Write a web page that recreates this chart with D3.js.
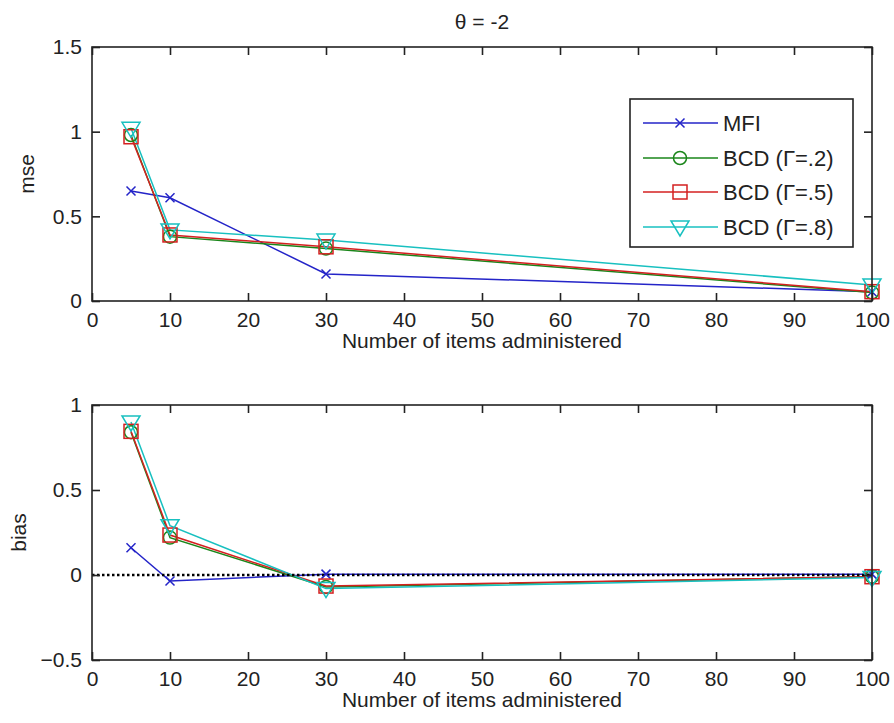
<!DOCTYPE html>
<html><head><meta charset="utf-8">
<script src="https://cdn.jsdelivr.net/npm/d3@7"></script>
<style>body{margin:0;background:#fff}svg{display:block}text{font-family:"Liberation Sans",Arial,sans-serif;fill:#222}</style>
</head><body>
<script>
const items = [5, 10, 30, 100];
const seriesNames = ["MFI", "BCD (\u0393=.2)", "BCD (\u0393=.5)", "BCD (\u0393=.8)"];
const mseMFI = [0.65, 0.61, 0.16, 0.055];
const mseBCD2 = [0.98, 0.38, 0.31, 0.05];
const mseBCD5 = [0.97, 0.39, 0.32, 0.055];
const mseBCD8 = [1.02, 0.42, 0.36, 0.095];
const biasMFI = [0.16, -0.035, 0.005, 0.005];
const biasBCD2 = [0.84, 0.22, -0.07, -0.01];
const biasBCD5 = [0.845, 0.235, -0.065, -0.01];
const biasBCD8 = [0.90, 0.29, -0.08, -0.015];
const xTicks = [0,10,20,30,40,50,60,70,80,90,100];
const mseTicks = [0, 0.5, 1, 1.5];
const biasTicks = [-0.5, 0, 0.5, 1];

const colors = ["#2424c8", "#1a861a", "#d42020", "#18c0c0"];
const markers = ["x", "o", "s", "v"];
const FS = "21px";

const W = 894, H = 723;
const svg = d3.select("body").append("svg").attr("width", W).attr("height", H);

const x = d3.scaleLinear().domain([0, 100]).range([92, 872]);

svg.append("text").attr("x", (x(0) + x(100)) / 2).attr("y", 29).attr("text-anchor", "middle")
  .style("font-size", FS).text("\u03b8 = -2");

function drawMarker(g, type, cx, cy, color) {
  const sw = 1.5;
  if (type === "x") {
    g.append("path").attr("d", `M${cx-4.5},${cy-4.5}L${cx+4.5},${cy+4.5}M${cx-4.5},${cy+4.5}L${cx+4.5},${cy-4.5}`)
      .attr("stroke", color).attr("stroke-width", sw).attr("fill", "none");
  } else if (type === "o") {
    g.append("circle").attr("cx", cx).attr("cy", cy).attr("r", 6.5)
      .attr("stroke", color).attr("stroke-width", sw).attr("fill", "none");
  } else if (type === "s") {
    g.append("rect").attr("x", cx-7).attr("y", cy-7).attr("width", 14).attr("height", 14)
      .attr("stroke", color).attr("stroke-width", sw).attr("fill", "none");
  } else if (type === "v") {
    g.append("path").attr("d", `M${cx-9},${cy-6}L${cx+9},${cy-6}L${cx},${cy+9}Z`)
      .attr("stroke", color).attr("stroke-width", sw).attr("fill", "none");
  }
}

function panel(top, bottom, yDomain, yTicks, ylabel, ylabelX, data, zeroLine) {
  const y = d3.scaleLinear().domain(yDomain).range([bottom, top]);
  const g = svg.append("g");
  const tl = 8;
  data.forEach((vals, si) => {
    const line = d3.line().x((d, i) => x(items[i])).y(d => y(d));
    g.append("path").datum(vals).attr("d", line).attr("fill", "none")
      .attr("stroke", colors[si]).attr("stroke-width", 1.5);
  });
  if (zeroLine) {
    g.append("line").attr("x1", x(0)).attr("x2", x(100)).attr("y1", y(0)).attr("y2", y(0))
      .attr("stroke", "#000").attr("stroke-width", 2.5).attr("stroke-dasharray", "2.5,2.5");
  }
  data.forEach((vals, si) => {
    vals.forEach((v, i) => drawMarker(g, markers[si], x(items[i]), y(v), colors[si]));
  });
  g.append("rect").attr("x", x(0)).attr("y", top).attr("width", x(100) - x(0)).attr("height", bottom - top)
    .attr("fill", "none").attr("stroke", "#222").attr("stroke-width", 1.6);
  const axB = d3.axisBottom(x).tickValues(xTicks).tickSize(-tl).tickPadding(11).tickFormat(d3.format("d"));
  const gx = g.append("g").attr("transform", `translate(0,${bottom})`).call(axB);
  const axT = d3.axisTop(x).tickValues(xTicks).tickSize(-tl).tickFormat("");
  const gxt = g.append("g").attr("transform", `translate(0,${top})`).call(axT);
  const axL = d3.axisLeft(y).tickValues(yTicks).tickSize(-tl).tickPadding(10).tickFormat(d3.format("~g"));
  const gy = g.append("g").attr("transform", `translate(${x(0)},0)`).call(axL);
  const axR = d3.axisRight(y).tickValues(yTicks).tickSize(-tl).tickFormat("");
  const gyr = g.append("g").attr("transform", `translate(${x(100)},0)`).call(axR);
  [gx, gxt, gy, gyr].forEach(a => {
    a.select(".domain").remove();
    a.selectAll(".tick line").attr("stroke", "#222").attr("stroke-width", 1.6);
    a.selectAll("text").style("font-size", FS).style("font-family", '"Liberation Sans",Arial,sans-serif').attr("fill", "#222");
  });
  g.append("text").attr("x", (x(0) + x(100)) / 2).attr("y", bottom + 47).attr("text-anchor", "middle")
    .style("font-size", FS).text("Number of items administered");
  g.append("text").attr("transform", `translate(${ylabelX},${(top + bottom) / 2}) rotate(-90)`)
    .attr("text-anchor", "middle").style("font-size", FS).text(ylabel);
  return g;
}

panel(47, 301, [0, 1.5], mseTicks, "mse", 34, [mseMFI, mseBCD2, mseBCD5, mseBCD8], false);
panel(405, 660, [-0.5, 1], biasTicks, "bias", 26, [biasMFI, biasBCD2, biasBCD5, biasBCD8], true);

// legend
const lg = svg.append("g");
lg.append("rect").attr("x", 630).attr("y", 99).attr("width", 223).attr("height", 148)
  .attr("fill", "#fff").attr("stroke", "#222").attr("stroke-width", 1.6);
const legY = [123, 158, 192, 227];
seriesNames.forEach((name, i) => {
  const yy = legY[i];
  lg.append("line").attr("x1", 643).attr("x2", 718).attr("y1", yy).attr("y2", yy)
    .attr("stroke", colors[i]).attr("stroke-width", 1.5);
  drawMarker(lg, markers[i], 680, yy, colors[i]);
  lg.append("text").attr("x", 723).attr("y", yy + 7.5).style("font-size", "22px").text(name);
});
</script>
</body></html>
